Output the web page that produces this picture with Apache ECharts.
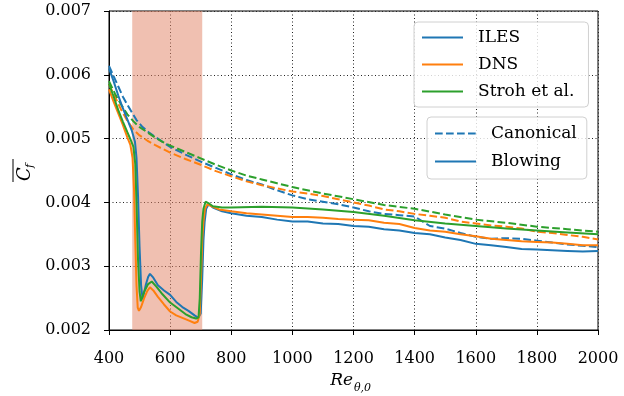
<!DOCTYPE html>
<html>
<head>
<meta charset="utf-8">
<script src="https://cdn.jsdelivr.net/npm/echarts@6/dist/echarts.min.js"></script>
<style>html,body{margin:0;padding:0;background:#fff;}#c{width:624px;height:396px;}</style>
</head>
<body>
<div id="c"></div>
<script>
// ---- Data ----
const xTicks = [400, 600, 800, 1000, 1200, 1400, 1600, 1800, 2000];
const yTicks = [0.002, 0.003, 0.004, 0.005, 0.006, 0.007];
const shadedRange = [476, 705];

// ILES, canonical (dashed)
const reIlesCan = [400,415,430,445,460,475,490,510,530,550,575,600,650,700,750,800,850,900,950,1000,1050,1100,1150,1200,1250,1300,1350,1400,1450,1500,1550,1600,1650,1700,1750,1800,1850,1900,1950,2000];
const cfIlesCan = [0.00614,0.00598,0.00582,0.00566,0.00553,0.00541,0.00529,0.00518,0.00510,0.00503,0.00495,0.00487,0.00475,0.00464,0.00454,0.00444,0.00435,0.00428,0.00419,0.00411,0.00405,0.00401,0.00397,0.00392,0.00386,0.00382,0.00380,0.00378,0.00363,0.00359,0.00352,0.00346,0.00343,0.00344,0.00343,0.00340,0.00337,0.00334,0.00332,0.00330];

// DNS, canonical (dashed)
const reDnsCan = [400,420,440,460,480,500,525,550,575,600,650,700,750,800,850,900,950,1000,1050,1100,1150,1200,1250,1300,1350,1400,1450,1500,1550,1600,1650,1700,1750,1800,1850,1900,1950,2000];
const cfDnsCan = [0.00585,0.00565,0.00545,0.00528,0.00514,0.00505,0.00497,0.00490,0.00484,0.00478,0.00468,0.00459,0.00449,0.00441,0.00433,0.00427,0.00422,0.00417,0.00414,0.00410,0.00405,0.00400,0.00395,0.00389,0.00386,0.00382,0.00379,0.00376,0.00370,0.00367,0.00364,0.00362,0.00359,0.00354,0.00352,0.00349,0.00346,0.00342];

// Stroh et al., canonical (dashed)
const reStrohCan = [400,420,440,460,480,500,525,550,575,600,650,700,750,800,850,900,950,1000,1100,1200,1300,1400,1500,1600,1700,1800,1900,2000];
const cfStrohCan = [0.00590,0.00570,0.00553,0.00538,0.00527,0.00518,0.00510,0.00502,0.00495,0.00489,0.00479,0.00469,0.00459,0.00450,0.00442,0.00436,0.00430,0.00424,0.00414,0.00405,0.00396,0.00390,0.00381,0.00373,0.00368,0.00362,0.00358,0.00354];

// ILES, blowing (solid)
const reIlesBlow = [400,415,430,445,460,475,485,490,495,500,505,510,520,528,534,545,560,580,600,620,640,660,680,692,700,705,709,713,718,726,740,770,800,850,900,950,1000,1050,1100,1150,1200,1250,1300,1350,1400,1450,1500,1550,1600,1650,1700,1750,1800,1850,1900,1950,2000];
const cfIlesBlow = [0.00610,0.00590,0.00568,0.00548,0.00530,0.00512,0.00495,0.00470,0.00410,0.00330,0.00270,0.00248,0.00270,0.00283,0.00288,0.00282,0.00270,0.00262,0.00255,0.00244,0.00236,0.00230,0.00223,0.00219,0.00226,0.00280,0.00340,0.00370,0.00390,0.00397,0.00392,0.00386,0.00383,0.00379,0.00377,0.00373,0.00370,0.00370,0.00367,0.00366,0.00363,0.00362,0.00358,0.00356,0.00352,0.00350,0.00345,0.00341,0.00335,0.00333,0.00330,0.00327,0.00326,0.00325,0.00324,0.00323,0.00324];

// DNS, blowing (solid)
const reDnsBlow = [400,415,430,445,460,470,477,482,486,490,494,498,505,515,525,534,545,560,580,600,620,640,660,680,690,697,701,705,709,714,722,740,760,800,850,900,950,1000,1050,1100,1150,1200,1250,1300,1350,1400,1450,1500,1550,1600,1650,1700,1750,1800,1850,1900,1950,2000];
const cfDnsBlow = [0.00577,0.00558,0.00540,0.00522,0.00502,0.00490,0.00470,0.00420,0.00340,0.00270,0.00235,0.00230,0.00236,0.00250,0.00261,0.00267,0.00262,0.00252,0.00240,0.00229,0.00223,0.00219,0.00215,0.00211,0.00213,0.00225,0.00280,0.00340,0.00370,0.00390,0.00397,0.00393,0.00389,0.00386,0.00383,0.00381,0.00379,0.00377,0.00377,0.00376,0.00374,0.00373,0.00372,0.00368,0.00366,0.00360,0.00356,0.00354,0.00350,0.00347,0.00343,0.00341,0.00339,0.00338,0.00337,0.00335,0.00333,0.00333];

// Stroh et al., blowing (solid)
const reStrohBlow = [400,415,430,445,460,470,480,486,490,495,500,504,515,528,540,555,575,600,625,650,670,685,693,697,701,705,709,716,725,740,770,800,900,1000,1100,1200,1300,1400,1500,1600,1700,1800,1900,2000];
const cfStrohBlow = [0.00586,0.00566,0.00545,0.00527,0.00510,0.00499,0.00487,0.00460,0.00400,0.00310,0.00260,0.00245,0.00260,0.00272,0.00276,0.00268,0.00256,0.00243,0.00234,0.00225,0.00220,0.00218,0.00220,0.00250,0.00320,0.00370,0.00390,0.00401,0.00399,0.00394,0.00392,0.00392,0.00393,0.00392,0.00389,0.00385,0.00379,0.00372,0.00367,0.00363,0.00359,0.00356,0.00353,0.00350];

// ---- Styling ----
const BLUE = '#1f77b4', ORANGE = '#ff7f0e', GREEN = '#2ca02c';
const FONT = '"DejaVu Serif", serif';
const DASH = [7.7, 3.3];
const LW = 2;
const zip = (xs, ys) => xs.map((x, i) => [x, ys[i]]);

function lineSeries(name, xs, ys, color, dashed, z) {
  return {
    name: name, type: 'line', data: zip(xs, ys), symbol: 'none', showSymbol: false,
    z: z, silent: true, animation: false,
    lineStyle: { color: color, width: LW, type: dashed ? DASH : 'solid' },
    itemStyle: { color: color }
  };
}

const series = [
  Object.assign(lineSeries('ILES canonical', reIlesCan, cfIlesCan, BLUE, true, 3), {
    markArea: {
      silent: true,
      itemStyle: { color: 'rgba(226,130,100,0.5)' },
      data: [[{ xAxis: shadedRange[0] }, { xAxis: shadedRange[1] }]]
    }
  }),
  lineSeries('DNS canonical', reDnsCan, cfDnsCan, ORANGE, true, 4),
  lineSeries('Stroh canonical', reStrohCan, cfStrohCan, GREEN, true, 5),
  lineSeries('ILES', reIlesBlow, cfIlesBlow, BLUE, false, 6),
  lineSeries('DNS', reDnsBlow, cfDnsBlow, ORANGE, false, 7),
  lineSeries('Stroh et al.', reStrohBlow, cfStrohBlow, GREEN, false, 8),
  lineSeries('Canonical', [], [], BLUE, true, 1),
  lineSeries('Blowing', [], [], BLUE, false, 1)
];

const legendCommon = {
  orient: 'vertical', itemWidth: 41, itemHeight: 14,
  backgroundColor: 'rgba(255,255,255,0.8)', borderColor: '#d0d0d0', borderWidth: 1, borderRadius: 4,
  itemStyle: { opacity: 0 },
  selectedMode: false
};

const chart = echarts.init(document.getElementById('c'), null, { renderer: 'canvas' });
chart.setOption({
  animation: false,
  backgroundColor: '#fff',
  grid: { left: 109, right: 26, top: 11, bottom: 66, show: true, borderColor: '#000', borderWidth: 1, backgroundColor: 'transparent' },
  xAxis: {
    type: 'value', min: xTicks[0], max: xTicks[xTicks.length - 1], interval: 200,
    axisLine: { show: true, lineStyle: { color: '#000', width: 1 } },
    axisTick: { show: true, inside: false, length: 5, lineStyle: { color: '#000', width: 1 } },
    axisLabel: { fontFamily: FONT, fontSize: 16, color: '#000', margin: 21, formatter: v => String(v) },
    splitLine: { show: true, lineStyle: { color: '#222', width: 1, type: [1, 2.5] } }
  },
  yAxis: {
    type: 'value', min: yTicks[0], max: yTicks[yTicks.length - 1], interval: 0.001,
    axisLine: { show: true, lineStyle: { color: '#000', width: 1 } },
    axisTick: { show: true, inside: false, length: 5, lineStyle: { color: '#000', width: 1 } },
    axisLabel: { fontFamily: FONT, fontSize: 16, color: '#000', margin: 18, formatter: v => v.toFixed(3) },
    splitLine: { show: true, lineStyle: { color: '#222', width: 1, type: [1, 2.5] } }
  },
  legend: [
    Object.assign({}, legendCommon, { left: 414, top: 22, padding: [7, 14, 7, 7], itemGap: 10,
      textStyle: { fontFamily: FONT, fontSize: 17, color: '#000', padding: [0, 0, 0, 10] },
      data: ['ILES', 'DNS', 'Stroh et al.'] }),
    Object.assign({}, legendCommon, { left: 427, top: 117, padding: [8, 10, 9, 7], itemGap: 11,
      textStyle: { fontFamily: FONT, fontSize: 17, color: '#000', padding: [0, 0, 0, 10] },
      data: ['Canonical', 'Blowing'] })
  ],
  graphic: [
    { type: 'text', x: 353, y: 381, style: { text: 'Re', font: 'italic 17px ' + FONT, fill: '#000', textAlign: 'right', textVerticalAlign: 'middle' } },
    { type: 'text', x: 354, y: 388, style: { text: 'θ,0', font: 'italic 11px ' + FONT, fill: '#000', textAlign: 'left', textVerticalAlign: 'middle' } },
    {
      type: 'group', x: 25, y: 171, rotation: Math.PI / 2,
      children: [
        { type: 'text', x: -10, y: 0, style: { text: 'C', font: 'italic 18px ' + FONT, fill: '#000', textAlign: 'left', textVerticalAlign: 'middle' } },
        { type: 'text', x: 3, y: 5, style: { text: 'f', font: 'italic 11px ' + FONT, fill: '#000', textAlign: 'left', textVerticalAlign: 'middle' } },
        { type: 'line', shape: { x1: -11, y1: -12, x2: 12, y2: -12 }, style: { stroke: '#000', lineWidth: 1 } }
      ]
    }
  ],
  series: series
});
</script>
</body>
</html>
